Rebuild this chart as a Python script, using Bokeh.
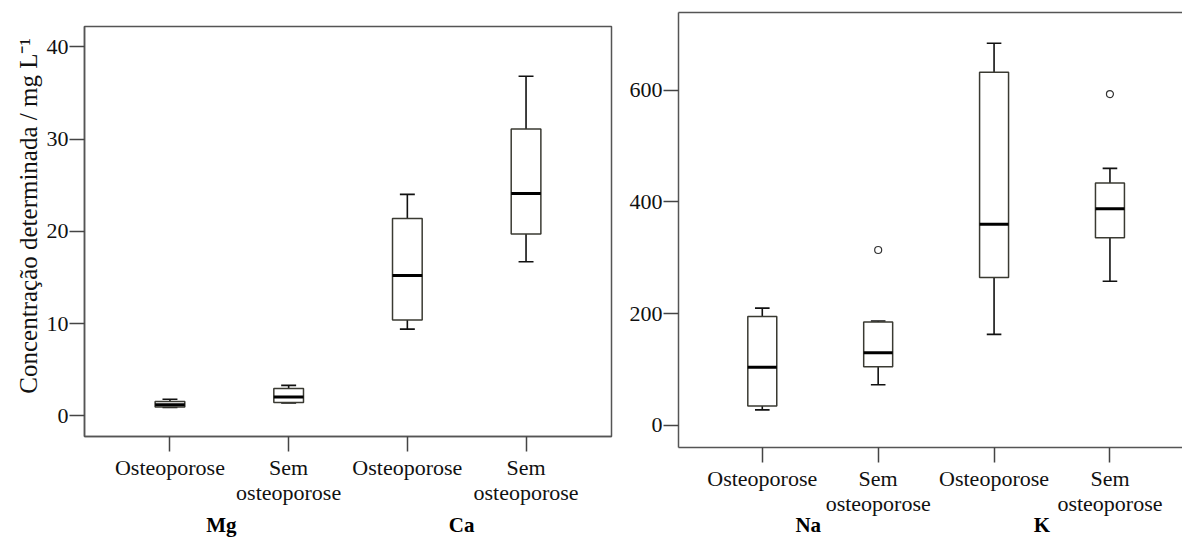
import numpy as np
from bokeh.plotting import figure
from bokeh.layouts import row
from bokeh.models import FixedTicker, LinearAxis, Range1d, ColumnDataSource
from bokeh.embed import file_html
from bokeh.resources import INLINE

# ---------------- data ----------------
categories = ["Osteoporose", "Sem\nosteoporose", "Osteoporose", "Sem\nosteoporose"]

left_groups = ["Mg", "Ca"]
left_min = [0.9, 1.4, 9.4, 16.7]
left_q1 = [0.95, 1.45, 10.4, 19.7]
left_med = [1.2, 2.05, 15.2, 24.1]
left_q3 = [1.55, 2.95, 21.4, 31.1]
left_max = [1.8, 3.3, 24.0, 36.8]
left_out_cat = []
left_out_val = []
left_yticks = [0, 10, 20, 30, 40]

right_groups = ["Na", "K"]
right_min = [28, 73, 163, 258]
right_q1 = [35, 105, 265, 336]
right_med = [104, 130, 360, 388]
right_q3 = [195, 185, 632, 434]
right_max = [210, 187, 684, 460]
right_out_cat = [2, 4]
right_out_val = [314, 593]
right_yticks = [0, 200, 400, 600]

y_label = "Concentração determinada / mg L\u207b\u00b9"

# ---------------- style ----------------
FONT = "Liberation Serif"
FRAME = "#555555"
BOX_LINE = "#3a3a32"
WHISK = "#111111"
BOX_W = 0.25
CAP_HALF = 0.063


def make_panel(width, height, borders, xr, yr, mins, q1, med, q3, maxs,
               out_cat, out_val, yticks, groups, group_shift, group_standoff, outline=True):
    p = figure(width=width, height=height, output_backend="svg", toolbar_location=None,
               x_range=Range1d(*xr), y_range=Range1d(*yr),
               min_border_left=borders[0], min_border_right=borders[1],
               min_border_top=borders[2], min_border_bottom=borders[3])
    p.frame_align = False
    p.grid.visible = False
    p.background_fill_color = "white"
    p.border_fill_color = "white"
    if outline:
        p.outline_line_color = FRAME
        p.outline_line_width = 1.5
        p.outline_line_alpha = 1.0
    else:
        p.outline_line_color = None

    xs = np.arange(1, len(categories) + 1)
    src = ColumnDataSource(dict(x=xs, lo=mins, q1=q1, med=med, q3=q3, hi=maxs,
                                xl=xs - CAP_HALF, xr=xs + CAP_HALF,
                                bl=xs - BOX_W / 2, br=xs + BOX_W / 2))
    # whiskers
    p.segment(x0="x", y0="q3", x1="x", y1="hi", source=src, line_color=WHISK, line_width=1.6)
    p.segment(x0="x", y0="q1", x1="x", y1="lo", source=src, line_color=WHISK, line_width=1.6)
    p.segment(x0="xl", y0="hi", x1="xr", y1="hi", source=src, line_color=WHISK, line_width=1.6)
    p.segment(x0="xl", y0="lo", x1="xr", y1="lo", source=src, line_color=WHISK, line_width=1.6)
    # boxes
    p.vbar(x="x", width=BOX_W, bottom="q1", top="q3", source=src,
           fill_color="white", line_color=BOX_LINE, line_width=1.5)
    # medians
    p.segment(x0="bl", y0="med", x1="br", y1="med", source=src, line_color="black", line_width=3)
    # outliers
    if len(out_cat):
        p.scatter(x=out_cat, y=out_val, marker="circle", size=7, fill_color="white",
                  line_color="#333333", line_width=1.2)

    ax = p.xaxis[0]
    ax.ticker = FixedTicker(ticks=list(xs))
    ax.major_label_overrides = {int(i): c for i, c in zip(xs, categories)}
    ax.major_label_text_line_height = 1.0
    ay = p.yaxis[0]
    ay.ticker = FixedTicker(ticks=yticks)
    for a in (ax, ay):
        a.axis_line_color = FRAME
        a.axis_line_width = 1.5
        a.major_tick_line_color = "#444444"
        a.major_tick_line_width = 1.5
        a.major_tick_in = 0
        a.major_tick_out = 15
        a.minor_tick_line_color = None
        a.major_label_text_font = FONT
        a.major_label_text_font_size = "22px"
        a.major_label_text_color = "#111111"
    ax.major_label_standoff = 3
    ay.major_label_standoff = 1

    if not outline:
        top = LinearAxis(ticker=FixedTicker(ticks=[]), axis_line_color=FRAME, axis_line_width=1.5,
                         major_tick_line_color=None, minor_tick_line_color=None,
                         major_tick_in=0, major_tick_out=0,
                         major_label_text_font_size="0px", major_label_standoff=0,
                         axis_label_standoff=0)
        p.add_layout(top, "above")

    # group names (Mg/Ca, Na/K) as a second, tick-less axis below the first one
    px_per_unit = (width - borders[0] - borders[1]) / (xr[1] - xr[0])
    gpos = [2 * g + 1.5 + group_shift[g] / px_per_unit for g in range(len(groups))]
    gax = LinearAxis(ticker=FixedTicker(ticks=gpos),
                     major_label_overrides={float(t): n for t, n in zip(gpos, groups)},
                     axis_line_color=None, major_tick_line_color=None, minor_tick_line_color=None,
                     major_tick_in=0, major_tick_out=0,
                     major_label_standoff=group_standoff,
                     major_label_text_font=FONT, major_label_text_font_size="21px",
                     major_label_text_font_style="bold", major_label_text_color="black")
    p.add_layout(gax, "below")
    return p


p1 = make_panel(615, 539, (84, 4, 26, 102), (0.28, 4.72), (-2.24, 42.2),
                left_min, left_q1, left_med, left_q3, left_max,
                left_out_cat, left_out_val, left_yticks, left_groups, (-8, -5), 5)

ay1 = p1.yaxis[0]
ay1.axis_label = "\u00a0" * 5 + y_label
ay1.axis_label_text_font = FONT
ay1.axis_label_text_font_size = "25px"
ay1.axis_label_text_font_style = "normal"
ay1.axis_label_text_color = "#111111"
ay1.axis_label_standoff = 2

p2 = make_panel(567, 539, (63, 0, 12, 92), (0.277, 4.626), (-39.4, 739),
                right_min, right_q1, right_med, right_q3, right_max,
                right_out_cat, right_out_val, right_yticks, right_groups, (-12, -10), -6,
                outline=False)

layout = row(p1, p2)
open("out.html", "w").write(file_html(layout, INLINE))
